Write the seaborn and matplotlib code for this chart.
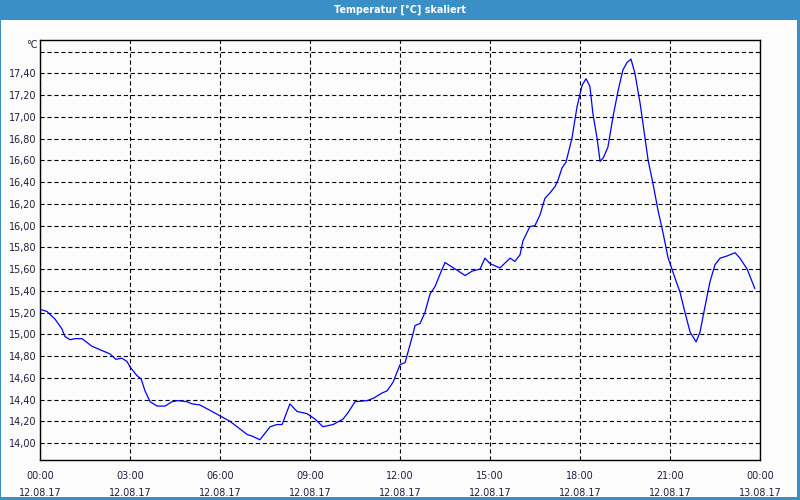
import matplotlib
matplotlib.use("Agg")
import matplotlib.pyplot as plt
from matplotlib.patches import Rectangle
import seaborn as sns
import pandas as pd

time_h = [0.00, 0.23, 0.50, 0.73, 0.83, 1.00, 1.17, 1.40, 1.73, 2.07, 2.33, 2.53,
          2.73, 2.90, 3.00, 3.23, 3.37, 3.50, 3.67, 3.90, 4.17, 4.40, 4.60, 4.90,
          5.07, 5.33, 5.67, 6.00, 6.33, 6.57, 6.90, 7.10, 7.33, 7.67, 7.90, 8.07,
          8.33, 8.57, 8.90, 9.17, 9.43, 9.77, 10.10, 10.27, 10.50, 10.90, 11.10,
          11.40, 11.57, 11.77, 12.00, 12.17, 12.43, 12.50, 12.67, 12.83, 13.00,
          13.17, 13.33, 13.50, 13.67, 13.90, 14.17, 14.40, 14.67, 14.83, 15.00,
          15.33, 15.67, 15.83, 16.00, 16.10, 16.33, 16.50, 16.67, 16.83, 17.00,
          17.17, 17.27, 17.40, 17.53, 17.73, 17.90, 18.07, 18.20, 18.33, 18.43,
          18.57, 18.67, 18.77, 18.93, 19.10, 19.27, 19.43, 19.57, 19.70, 19.83,
          20.00, 20.17, 20.27, 20.43, 20.60, 20.77, 20.93, 21.10, 21.33, 21.50,
          21.67, 21.87, 22.00, 22.17, 22.33, 22.50, 22.67, 22.90, 23.17, 23.33,
          23.57, 23.80, 23.83]
temp_c = [15.23, 15.21, 15.14, 15.05, 14.98, 14.95, 14.96, 14.96, 14.89, 14.85,
          14.82, 14.77, 14.78, 14.75, 14.70, 14.62, 14.59, 14.48, 14.38, 14.34,
          14.34, 14.38, 14.39, 14.38, 14.36, 14.35, 14.30, 14.25, 14.20, 14.15,
          14.08, 14.06, 14.03, 14.15, 14.17, 14.17, 14.36, 14.29, 14.27, 14.22,
          14.15, 14.17, 14.22, 14.28, 14.38, 14.39, 14.41, 14.46, 14.48, 14.56,
          14.72, 14.74, 15.00, 15.08, 15.10, 15.20, 15.37, 15.44, 15.55, 15.66,
          15.63, 15.59, 15.54, 15.58, 15.60, 15.70, 15.65, 15.61, 15.70, 15.67,
          15.73, 15.86, 15.99, 16.00, 16.10, 16.25, 16.30, 16.36, 16.42, 16.53,
          16.58, 16.80, 17.09, 17.29, 17.35, 17.28, 17.03, 16.80, 16.59, 16.62,
          16.72, 17.00, 17.24, 17.43, 17.50, 17.53, 17.40, 17.13, 16.80, 16.60,
          16.39, 16.14, 15.93, 15.71, 15.57, 15.39, 15.20, 15.02, 14.93, 15.02,
          15.26, 15.48, 15.64, 15.70, 15.72, 15.75, 15.70, 15.60, 15.44, 15.42]

x_ticks = [0, 3, 6, 9, 12, 15, 18, 21, 24]
x_tick_labels = ["00:00\n12.08.17", "03:00\n12.08.17", "06:00\n12.08.17",
                 "09:00\n12.08.17", "12:00\n12.08.17", "15:00\n12.08.17",
                 "18:00\n12.08.17", "21:00\n12.08.17", "00:00\n13.08.17"]
y_ticks = [14.0, 14.2, 14.4, 14.6, 14.8, 15.0, 15.2, 15.4, 15.6, 15.8,
           16.0, 16.2, 16.4, 16.6, 16.8, 17.0, 17.2, 17.4, 17.6]
y_tick_labels = ["14,00", "14,20", "14,40", "14,60", "14,80", "15,00", "15,20",
                 "15,40", "15,60", "15,80", "16,00", "16,20", "16,40", "16,60",
                 "16,80", "17,00", "17,20", "17,40", ""]
title = "Temperatur [°C] skaliert"
unit = "°C"

sns.set_style("white")
plt.rcParams["font.family"] = ["DejaVu Sans"]
plt.rcParams["lines.scale_dashes"] = False

BG = "#fbfcfb"
BLUE = "#3b8fc7"
TXT = "#1e1e3c"
FS = 6.9

fig = plt.figure(figsize=(8, 5), dpi=100, facecolor=BG)
ax = fig.add_axes([40 / 800, 1 - 460 / 500, 720 / 800, 420 / 500])
ax.set_facecolor(BG)

df = pd.DataFrame({"Zeit": time_h, "Temperatur": temp_c})
sns.lineplot(data=df, x="Zeit", y="Temperatur", ax=ax, color="#0000ff",
             linewidth=0.9, zorder=3)

ax.set_xlim(0, 24)
ax.set_ylim(13.844, 17.706)
ax.set_xticks(x_ticks)
ax.set_xticklabels(x_tick_labels, fontsize=FS, color=TXT, linespacing=1.85)
ax.set_xticks(list(range(25)), minor=True)
ax.set_yticks(y_ticks)
ax.set_yticklabels(y_tick_labels, fontsize=FS, color=TXT)
ax.set_xlabel("")
ax.set_ylabel("")

ax.tick_params(axis="x", which="both", direction="out", length=4, width=0.8,
               color="black", pad=4)
ax.tick_params(axis="y", which="both", length=0, pad=2.5)

ax.grid(True, which="major", axis="both", color="black", linewidth=0.8,
        linestyle=(0, (3, 2)))
ax.set_axisbelow(True)
for s in ax.spines.values():
    s.set_visible(True)
    s.set_color("black")
    s.set_linewidth(1.0)

# title band and frame
fig.patches.append(Rectangle((0, 1 - 20 / 500), 1, 20 / 500, transform=fig.transFigure,
                             facecolor=BLUE, edgecolor="none", zorder=0))
fig.patches.append(Rectangle((0, 0), 1 / 800, 1, transform=fig.transFigure,
                             facecolor=BLUE, edgecolor="none", zorder=0))
fig.patches.append(Rectangle((797 / 800, 0), 3 / 800, 1, transform=fig.transFigure,
                             facecolor=BLUE, edgecolor="none", zorder=0))
fig.patches.append(Rectangle((0, 0), 1, 3 / 500, transform=fig.transFigure,
                             facecolor=BLUE, edgecolor="none", zorder=0))
fig.text(0.5, 1 - 10 / 500, title, color="white", fontsize=6.9, fontweight="bold",
         ha="center", va="center")
fig.text(38 / 800, 1 - 45 / 500, unit, color=TXT, fontsize=FS, ha="right", va="center")

fig.savefig("out.png", dpi=100, facecolor=BG)
